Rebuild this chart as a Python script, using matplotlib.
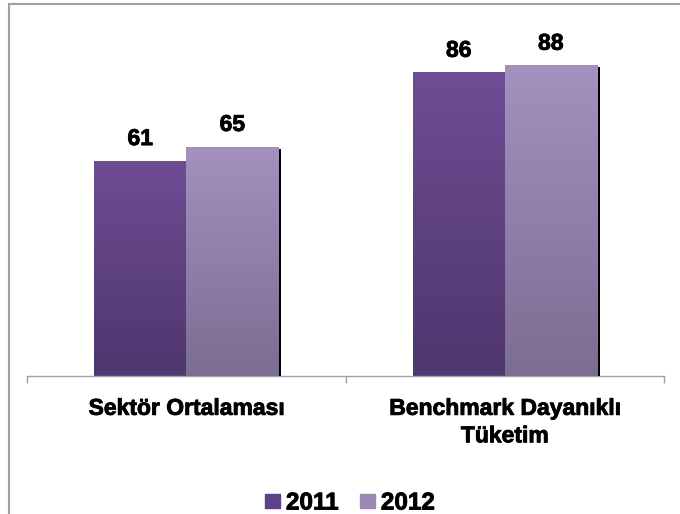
import matplotlib
matplotlib.use("Agg")
import matplotlib.pyplot as plt
import numpy as np
from matplotlib.colors import LinearSegmentedColormap
from matplotlib import patheffects as pe
from matplotlib.lines import Line2D
from matplotlib.patches import Rectangle

plt.rcParams['font.family'] = ['Liberation Sans', 'DejaVu Sans']

categories = ["Sektör Ortalaması", "Benchmark Dayanıklı\nTüketim"]
series_names = ["2011", "2012"]
values_2011 = [61, 86]
values_2012 = [65, 88]

fig = plt.figure(figsize=(6.8, 5.14), dpi=100)
ax = fig.add_axes([27/680, 138/514, (664-27)/680, (376-23)/514])

x = np.arange(len(categories))
w = 0.289
grads = [("#6f4d94", "#4e366e"), ("#a491bf", "#7c6d93")]
legend_cols = ["#5f4185", "#9a89b3"]
thick = [pe.withStroke(linewidth=0.6, foreground='black')]

for i, (vals, (ctop, cbot)) in enumerate(zip([values_2011, values_2012], grads)):
    bars = ax.bar(x - w/2 + i*w, vals, width=w, color=ctop, zorder=2 + i,
                  path_effects=[pe.SimplePatchShadow(offset=(2.3, -1.5), shadow_rgbFace='black', alpha=1.0), pe.Normal()])
    cmap = LinearSegmentedColormap.from_list("g%d" % i, [cbot, ctop])
    grad = np.linspace(0, 1, 256).reshape(-1, 1)
    for b in bars:
        im = ax.imshow(grad, extent=[b.get_x(), b.get_x() + b.get_width(), 0, b.get_height()],
                       origin='lower', aspect='auto', cmap=cmap, zorder=2.5 + i, interpolation='bicubic')
        im.set_clip_path(b)
        ax.text(b.get_x() + b.get_width()/2, b.get_height() + 3.0, str(int(b.get_height())),
                ha='center', va='bottom', fontsize=16.5, fontweight='bold', color='black', zorder=5,
                path_effects=thick)

ax.set_xlim(-0.5, 1.5)
ax.set_ylim(0, 100)
ax.set_yticks([])
for s in ['top', 'right', 'left']:
    ax.spines[s].set_visible(False)
ax.spines['bottom'].set_color('#a0a0a0')
ax.spines['bottom'].set_linewidth(1.0)
ax.set_xticks(x)
ax.set_xticklabels(categories, fontsize=16.5, fontweight='bold', linespacing=1.25)
for t in ax.get_xticklabels():
    t.set_path_effects(thick)
ax.tick_params(axis='x', which='major', length=0, pad=15)
ax.set_xticks([-0.5, 0.5, 1.5], minor=True)
ax.tick_params(axis='x', which='minor', length=5, direction='out', color='#a0a0a0', width=1.0)
ax.patch.set_alpha(0)

handles = [Rectangle((0, 0), 1, 1, color=c) for c in legend_cols]
leg = fig.legend(handles, series_names, loc='center', bbox_to_anchor=(350/680, 1 - 503/514), ncol=2,
                 frameon=False, prop={'size': 17.5, 'weight': 'bold'}, handlelength=0.6, handleheight=0.5,
                 handletextpad=0.25, columnspacing=0.9, borderpad=0)
for t in leg.get_texts():
    t.set_path_effects(thick)

# figure border (cropped: only top and left visible)
fig.add_artist(Line2D([9/680, 9/680], [0, 1 - 4/514], transform=fig.transFigure, color='#a0a0a0', lw=1.5))
fig.add_artist(Line2D([9/680, 1], [1 - 4/514, 1 - 4/514], transform=fig.transFigure, color='#a0a0a0', lw=1.5))

fig.savefig("out.png", dpi=100)
